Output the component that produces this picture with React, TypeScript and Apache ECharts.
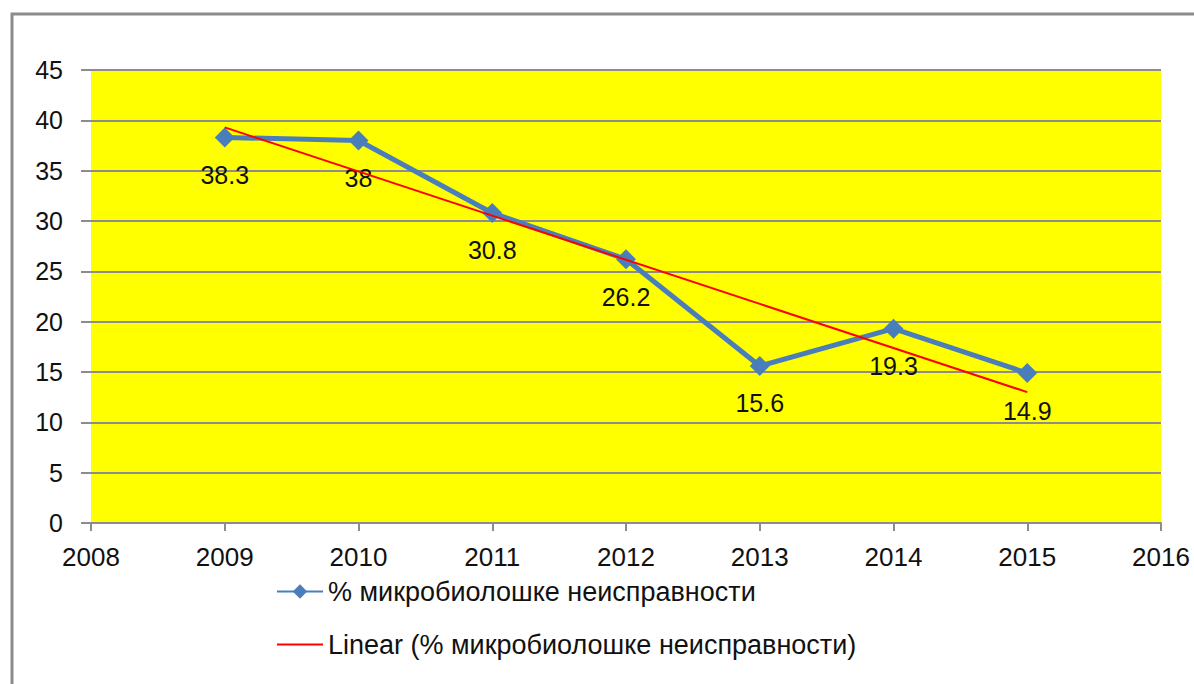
import React, { useEffect, useRef } from "react";
import * as echarts from "echarts";

const years = [2009, 2010, 2011, 2012, 2013, 2014, 2015];
const values = [38.3, 38, 30.8, 26.2, 15.6, 19.3, 14.9];
const trendYears = [2009, 2015];
const trendValues = [39.3, 13.0];
const seriesName = "% микробиолошке неисправности";
const trendName = "Linear (% микробиолошке неисправности)";

const FONT = "Liberation Sans";

export default function App() {
  const ref = useRef<HTMLDivElement>(null);
  useEffect(() => {
    document.body.style.margin = "0";
    const chart = echarts.init(ref.current!, undefined, { renderer: "svg" });
    chart.setOption({
      animation: false,
      backgroundColor: "#ffffff",
      graphic: [
        {
          type: "rect",
          left: 9.5,
          top: 11.5,
          shape: { x: 0, y: 0, width: 1300, height: 800 },
          style: { fill: "none", stroke: "#8c8c8c", lineWidth: 3 },
          z: -1,
          silent: true,
        },
      ],
      grid: {
        left: 91,
        top: 70,
        right: 33,
        bottom: 161,
        show: true,
        backgroundColor: "#ffff00",
        borderWidth: 0,
      },
      legend: {
        orient: "vertical",
        left: 276,
        top: 578,
        padding: 0,
        itemWidth: 46,
        itemHeight: 18,
        itemGap: 26,
        textStyle: { fontFamily: FONT, fontSize: 27, color: "#111" },
        data: [
          { name: seriesName },
          { name: trendName, itemStyle: { opacity: 0 } },
        ],
      },
      xAxis: {
        type: "value",
        min: 2008,
        max: 2016,
        interval: 1,
        axisLine: { show: true, lineStyle: { color: "#8c8c8c", width: 2 } },
        axisTick: { show: true, length: 8, lineStyle: { color: "#8c8c8c", width: 2 } },
        splitLine: { show: false },
        axisLabel: {
          margin: 21,
          fontFamily: FONT,
          fontSize: 26,
          color: "#111",
          formatter: (v: number) => String(v),
        },
      },
      yAxis: {
        type: "value",
        min: 0,
        max: 45,
        interval: 5,
        axisLine: { show: false },
        axisTick: { show: true, length: 10, lineStyle: { color: "#8c8c8c", width: 2 } },
        splitLine: { show: true, lineStyle: { color: "#8c8c8c", width: 2 } },
        axisLabel: { margin: 28, fontFamily: FONT, fontSize: 25, color: "#111" },
      },
      series: [
        {
          name: seriesName,
          type: "line",
          data: years.map((y, i) => [y, values[i]]),
          symbol: "diamond",
          symbolSize: 20,
          itemStyle: { color: "#4a7ebb" },
          lineStyle: { color: "#4a7ebb", width: 5 },
          label: {
            show: true,
            position: "bottom",
            distance: 15,
            fontFamily: FONT,
            fontSize: 25,
            color: "#111",
            formatter: (p: any) => String(p.value[1]),
          },
          z: 2,
        },
        {
          name: trendName,
          type: "line",
          data: trendYears.map((y, i) => [y, trendValues[i]]),
          symbol: "none",
          itemStyle: { color: "#ff0000" },
          lineStyle: { color: "#ff0000", width: 2 },
          z: 3,
        },
      ],
    });
    return () => chart.dispose();
  }, []);
  return <div ref={ref} style={{ width: 1194, height: 684 }} />;
}
